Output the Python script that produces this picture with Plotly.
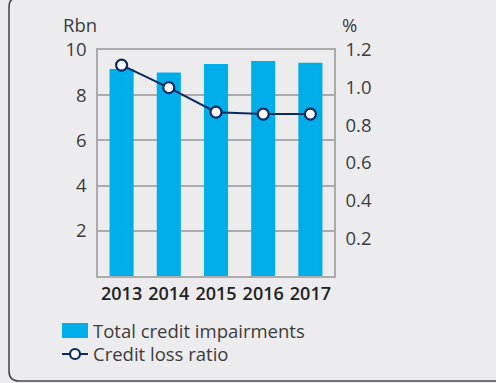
import plotly.graph_objects as go

# Chart data
years = ["2013", "2014", "2015", "2016", "2017"]
impairments_rbn = [9.16, 9.0, 9.38, 9.51, 9.44]
credit_loss_ratio_pct = [1.12, 1.00, 0.87, 0.86, 0.86]
left_ticks = [2, 4, 6, 8, 10]
right_ticks = [0.2, 0.4, 0.6, 0.8, 1.0, 1.2]
legend_labels = ["Total credit impairments", "Credit loss ratio"]

W, H = 496, 383
L, R, T, B = 98, 334, 50, 276  # plot area in pixels

BAR_COLOR = "#00AEEA"
LINE_COLOR = "#0B2A62"
BG = "#ECECEE"
GRID = "#ABABAB"
TEXT = "#3C3C3C"
FONT = "Open Sans"


def px(x):
    return (x - L) / (R - L)


def py(y):
    return (B - y) / (B - T)


fig = go.Figure()
fig.add_trace(go.Bar(
    x=years, y=impairments_rbn, marker=dict(color=BAR_COLOR, line=dict(width=0)),
    width=0.51, name=legend_labels[0], showlegend=False,
))
fig.add_trace(go.Scatter(
    x=years, y=credit_loss_ratio_pct, yaxis="y2", mode="lines+markers",
    line=dict(color=LINE_COLOR, width=2),
    marker=dict(symbol="circle", size=11, color="white",
                line=dict(color=LINE_COLOR, width=2.2)),
    name=legend_labels[1], showlegend=False,
))

axis_font = dict(family=FONT, size=18.5, color=TEXT)

shapes = []
# rounded frame around the panel
r = 10
x0, x1, y0, y1 = 9, W + 20, -3, 381
path = (
    f"M {px(x1)},{py(y0)} L {px(x0 + r)},{py(y0)} "
    f"Q {px(x0)},{py(y0)} {px(x0)},{py(y0 + r)} "
    f"L {px(x0)},{py(y1 - r)} "
    f"Q {px(x0)},{py(y1)} {px(x0 + r)},{py(y1)} "
    f"L {px(x1)},{py(y1)}"
)
shapes.append(dict(type="path", xref="paper", yref="paper", path=path,
                   line=dict(color="#4A4A4A", width=1.6)))

# legend keys
shapes.append(dict(type="rect", xref="paper", yref="paper",
                   x0=px(62), x1=px(88), y0=py(338), y1=py(323),
                   fillcolor=BAR_COLOR, line=dict(width=0)))
shapes.append(dict(type="line", xref="paper", yref="paper",
                   x0=px(62), x1=px(88), y0=py(354), y1=py(354),
                   line=dict(color=LINE_COLOR, width=2)))
shapes.append(dict(type="circle", xref="paper", yref="paper",
                   x0=px(70), x1=px(80), y0=py(359), y1=py(349),
                   fillcolor="white", line=dict(color=LINE_COLOR, width=2.2)))

annotations = [
    dict(text="Rbn", x=px(61), y=py(24), xref="paper", yref="paper",
         xanchor="left", yanchor="middle", showarrow=False, font=axis_font),
    dict(text="%", x=px(340), y=py(24), xref="paper", yref="paper",
         xanchor="left", yanchor="middle", showarrow=False, font=axis_font),
    dict(text=legend_labels[0], x=px(91), y=py(330), xref="paper", yref="paper",
         xanchor="left", yanchor="middle", showarrow=False, font=axis_font),
    dict(text=legend_labels[1], x=px(91), y=py(354), xref="paper", yref="paper",
         xanchor="left", yanchor="middle", showarrow=False, font=axis_font),
]

fig.update_layout(
    width=W, height=H,
    margin=dict(l=L, r=W - R, t=T, b=H - B, pad=0),
    paper_bgcolor=BG, plot_bgcolor=BG,
    font=dict(family=FONT, color=TEXT),
    bargap=0.49,
    xaxis=dict(
        type="category", showgrid=False, showline=True, linecolor=GRID,
        linewidth=1.5, mirror=True, ticks="", ticklabelstandoff=1,
        tickfont=dict(family=FONT, size=18, color="#222222", weight=600),
    ),
    yaxis=dict(
        range=[0, 10], tickvals=left_ticks, showgrid=True, gridcolor=GRID,
        gridwidth=1.5, showline=True, linecolor=GRID, linewidth=1.5,
        ticks="", ticklabelstandoff=6, tickfont=axis_font, zeroline=False,
    ),
    yaxis2=dict(
        range=[0, 1.2], tickvals=right_ticks, tickformat=".1f", overlaying="y",
        side="right", showgrid=False, showline=True, linecolor=GRID,
        linewidth=1.5, ticks="", ticklabelstandoff=6, tickfont=axis_font,
        zeroline=False,
    ),
    shapes=shapes,
    annotations=annotations,
)

fig.write_html("out.html")
